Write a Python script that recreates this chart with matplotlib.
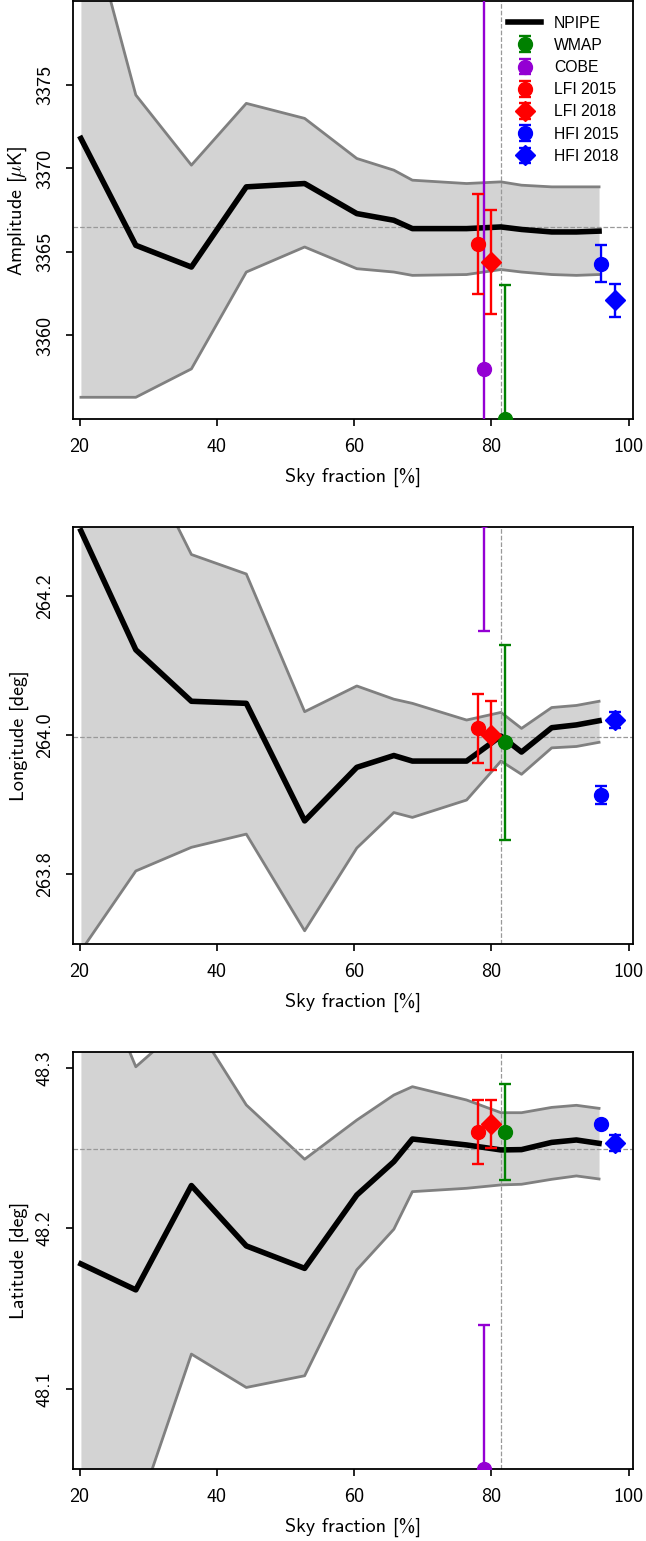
import matplotlib
matplotlib.use("Agg")
import matplotlib.pyplot as plt

plt.rcParams['font.family'] = ['cmss10', 'DejaVu Sans']
plt.rcParams['mathtext.fontset'] = 'cm'
plt.rcParams['axes.unicode_minus'] = False
plt.rcParams['axes.formatter.use_mathtext'] = False

# ---------------- data ----------------
fsky = [20.2, 28.2, 36.3, 44.3, 52.8, 60.4, 65.8, 68.5, 76.4, 81.4, 84.4, 88.8, 92.4, 95.7]

amp_mean = [3371.8, 3365.4, 3364.1, 3368.9, 3369.1, 3367.3, 3366.9, 3366.4, 3366.4, 3366.5, 3366.35, 3366.2, 3366.2, 3366.25]
amp_hi = [3386.7, 3374.4, 3370.2, 3373.9, 3373.0, 3370.6, 3369.9, 3369.3, 3369.1, 3369.2, 3369.0, 3368.9, 3368.9, 3368.9]
amp_lo = [3356.3, 3356.3, 3358.0, 3363.8, 3365.3, 3364.0, 3363.8, 3363.6, 3363.65, 3363.95, 3363.8, 3363.65, 3363.6, 3363.65]

lon_mean = [264.294, 264.123, 264.049, 264.046, 263.877, 263.954, 263.971, 263.963, 263.963, 263.999, 263.976, 264.011, 264.015, 264.021]
lon_hi = [264.6, 264.42, 264.26, 264.232, 264.034, 264.071, 264.052, 264.046, 264.022, 264.033, 264.010, 264.040, 264.043, 264.049]
lon_lo = [263.69, 263.805, 263.839, 263.858, 263.719, 263.838, 263.889, 263.882, 263.907, 263.963, 263.944, 263.982, 263.984, 263.990]

lat_mean = [48.1778, 48.1616, 48.2266, 48.189, 48.175, 48.2207, 48.2415, 48.2556, 48.2519, 48.2488, 48.249, 48.2535, 48.255, 48.2529]
lat_hi = [48.383, 48.3006, 48.331, 48.2768, 48.243, 48.2674, 48.283, 48.2882, 48.2799, 48.272, 48.272, 48.2753, 48.2766, 48.2747]
lat_lo = [47.95, 48.02, 48.1216, 48.1008, 48.1081, 48.1741, 48.1994, 48.2228, 48.2249, 48.227, 48.2274, 48.2305, 48.2326, 48.2307]

ref_fsky = 81.4
ref_amp = 3366.5
ref_lon = 263.998
ref_lat = 48.2494

exp_names = ['WMAP', 'COBE', 'LFI 2015', 'LFI 2018', 'HFI 2015', 'HFI 2018']
exp_x = [82.0, 79.0, 78.0, 80.0, 96.0, 98.0]
exp_amp = [3355.0, 3358.0, 3365.5, 3364.4, 3364.3, 3362.1]
exp_amp_err = [8.0, 23.0, 3.0, 3.1, 1.1, 1.0]
exp_lon = [263.99, 264.31, 264.01, 264.00, 263.914, 264.022]
exp_lon_err = [0.14, 0.16, 0.05, 0.05, 0.013, 0.011]
exp_lat = [48.26, 48.05, 48.26, 48.265, 48.265, 48.253]
exp_lat_err = [0.03, 0.09, 0.02, 0.015, 0.002, 0.005]
exp_colors = ['green', 'darkviolet', 'red', 'red', 'blue', 'blue']
exp_markers = ['o', 'o', 'o', 'D', 'o', 'D']

ylabels = [r'Amplitude [$\mu$K]', 'Longitude [deg]', 'Latitude [deg]']
ylims = [(3355, 3380), (263.7, 264.3), (48.05, 48.31)]
yticks = [[3360, 3365, 3370, 3375], [263.8, 264.0, 264.2], [48.1, 48.2, 48.3]]
yticklabels = [['3360', '3365', '3370', '3375'], ['263.8', '264.0', '264.2'], ['48.1', '48.2', '48.3']]
xticks = [20, 40, 60, 80, 100]

panels = [
    (amp_mean, amp_lo, amp_hi, ref_amp, exp_amp, exp_amp_err),
    (lon_mean, lon_lo, lon_hi, ref_lon, exp_lon, exp_lon_err),
    (lat_mean, lat_lo, lat_hi, ref_lat, exp_lat, exp_lat_err),
]

# ---------------- figure ----------------
fig = plt.figure(figsize=(6.46, 15.41), dpi=100)
positions = [
    [0.1125, 0.72810, 0.8669, 0.27093],
    [0.1125, 0.38741, 0.8669, 0.27080],
    [0.1125, 0.04672, 0.8669, 0.27080],
]

for i, (mean, lo, hi, ref, vals, errs) in enumerate(panels):
    ax = fig.add_axes(positions[i])
    ax.fill_between(fsky, lo, hi, color='#d3d3d3', lw=0, zorder=1)
    ax.plot(fsky, lo, color='#808080', lw=2, zorder=2)
    ax.plot(fsky, hi, color='#808080', lw=2, zorder=2)
    ax.axhline(ref, color='#999999', ls='--', lw=0.9, zorder=2.5)
    ax.axvline(ref_fsky, color='#999999', ls='--', lw=0.9, zorder=2.5)
    npipe, = ax.plot(fsky, mean, color='black', lw=4, zorder=3, label='NPIPE')
    handles = [npipe]
    for j in range(len(exp_names)):
        h = ax.errorbar(exp_x[j], vals[j], yerr=errs[j], fmt=exp_markers[j],
                        color=exp_colors[j], ms=10, elinewidth=1.7,
                        capsize=4.5, capthick=1.7, zorder=4, label=exp_names[j])
        handles.append(h)
    ax.set_xlim(19, 100.6)
    ax.set_ylim(*ylims[i])
    ax.set_xticks(xticks)
    ax.set_xticklabels([str(t) for t in xticks])
    ax.set_yticks(yticks[i])
    ax.set_yticklabels(yticklabels[i], rotation=90, va='center')
    ax.tick_params(labelsize=14.5, width=1.2, length=5, pad=8.5)
    for s in ax.spines.values():
        s.set_linewidth(1.3)
    ax.set_xlabel('Sky fraction [%]', fontsize=14.5, labelpad=8.5)
    ax.set_ylabel(ylabels[i], fontsize=14.5, labelpad=5)
    if i == 0:
        ax.legend(handles=handles, loc='upper right', frameon=False,
                  prop={'family': 'Liberation Sans', 'size': 11.3},
                  labelspacing=0.46, handletextpad=0.8, handlelength=2.15)

fig.savefig('out.png', dpi=100)
